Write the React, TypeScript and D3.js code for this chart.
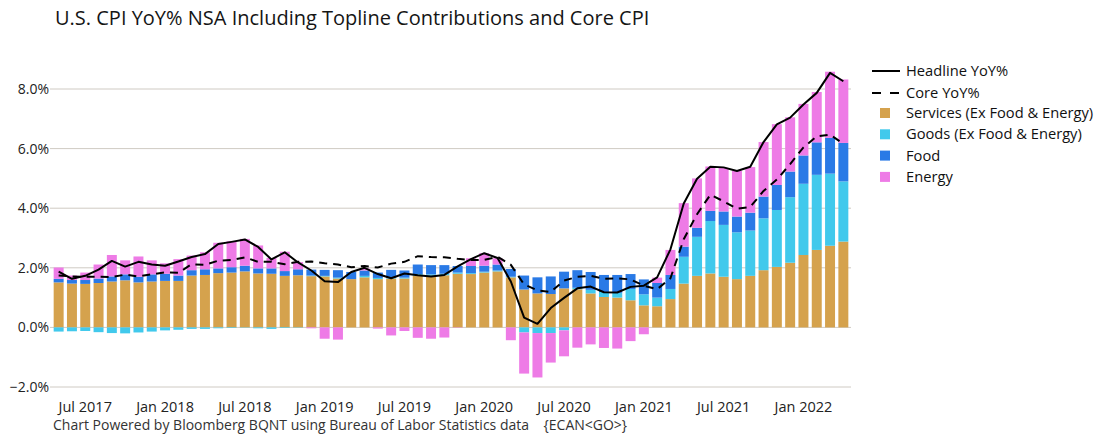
import React from 'react';
import * as d3 from 'd3';

// monthly, May 2017 .. Apr 2022
const months = [
  '2017-05', '2017-06', '2017-07', '2017-08', '2017-09', '2017-10', '2017-11', '2017-12',
  '2018-01', '2018-02', '2018-03', '2018-04', '2018-05', '2018-06', '2018-07', '2018-08', '2018-09', '2018-10', '2018-11', '2018-12',
  '2019-01', '2019-02', '2019-03', '2019-04', '2019-05', '2019-06', '2019-07', '2019-08', '2019-09', '2019-10', '2019-11', '2019-12',
  '2020-01', '2020-02', '2020-03', '2020-04', '2020-05', '2020-06', '2020-07', '2020-08', '2020-09', '2020-10', '2020-11', '2020-12',
  '2021-01', '2021-02', '2021-03', '2021-04', '2021-05', '2021-06', '2021-07', '2021-08', '2021-09', '2021-10', '2021-11', '2021-12',
  '2022-01', '2022-02', '2022-03', '2022-04',
];

const services = [
  1.51, 1.47, 1.46, 1.49, 1.54, 1.58, 1.51, 1.54,
  1.56, 1.56, 1.74, 1.76, 1.82, 1.84, 1.88, 1.81, 1.8, 1.73, 1.75, 1.72,
  1.71, 1.64, 1.62, 1.68, 1.62, 1.64, 1.64, 1.73, 1.73, 1.75, 1.8, 1.79,
  1.84, 1.88, 1.68, 1.27, 1.14, 1.12, 1.31, 1.28, 1.14, 1.02, 1.0, 0.91,
  0.74, 0.71, 0.95, 1.47, 1.73, 1.81, 1.7, 1.62, 1.73, 1.92, 2.03, 2.17,
  2.43, 2.6, 2.74, 2.88,
];
const goods = [
  -0.14, -0.13, -0.12, -0.16, -0.19, -0.2, -0.17, -0.14,
  -0.1, -0.08, -0.05, -0.05, -0.03, -0.02, -0.01, -0.03, -0.05, -0.02, -0.01, 0.02,
  0.02, 0.03, 0.0, 0.05, 0.04, 0.03, 0.03, 0.06, 0.05, 0.05, 0.04, 0.03,
  0.03, 0.03, 0.02, -0.17, -0.19, -0.19, -0.1, 0.05, 0.12, 0.17, 0.16, 0.38,
  0.37, 0.29, 0.34, 0.9, 1.31, 1.76, 1.74, 1.57, 1.52, 1.74, 1.91, 2.2,
  2.39, 2.52, 2.42, 2.02,
];
const food = [
  0.12, 0.12, 0.13, 0.15, 0.17, 0.2, 0.19, 0.24,
  0.24, 0.18, 0.18, 0.19, 0.16, 0.18, 0.19, 0.17, 0.18, 0.16, 0.2, 0.2,
  0.2, 0.25, 0.24, 0.18, 0.18, 0.26, 0.24, 0.32, 0.31, 0.29, 0.22, 0.24,
  0.2, 0.2, 0.26, 0.47, 0.54, 0.59, 0.56, 0.59, 0.6, 0.57, 0.6, 0.5,
  0.5, 0.49, 0.47, 0.34, 0.3, 0.34, 0.45, 0.53, 0.6, 0.73, 0.84, 0.86,
  0.95, 1.09, 1.2, 1.29,
];
const energy = [
  0.38, 0.15, 0.25, 0.47, 0.72, 0.47, 0.68, 0.47,
  0.35, 0.55, 0.49, 0.57, 0.86, 0.87, 0.9, 0.77, 0.35, 0.65, 0.24, -0.03,
  -0.38, -0.41, 0.0, 0.07, -0.04, -0.27, -0.12, -0.35, -0.38, -0.34, -0.01, 0.26,
  0.42, 0.21, -0.43, -1.38, -1.49, -0.99, -0.87, -0.68, -0.57, -0.69, -0.71, -0.46,
  -0.23, 0.18, 0.84, 1.46, 1.66, 1.49, 1.46, 1.54, 1.53, 1.83, 2.04, 1.82,
  1.73, 1.69, 2.22, 2.13,
];
const headline = [
  1.87, 1.63, 1.73, 1.94, 2.23, 2.04, 2.2, 2.11,
  2.07, 2.21, 2.36, 2.46, 2.8, 2.87, 2.95, 2.7, 2.28, 2.52, 2.18, 1.91,
  1.55, 1.52, 1.86, 2.0, 1.79, 1.65, 1.81, 1.75, 1.71, 1.76, 2.05, 2.29,
  2.49, 2.33, 1.54, 0.33, 0.12, 0.65, 0.99, 1.31, 1.37, 1.18, 1.17, 1.36,
  1.4, 1.68, 2.62, 4.16, 4.99, 5.39, 5.37, 5.25, 5.39, 6.22, 6.81, 7.04,
  7.48, 7.87, 8.54, 8.26,
];
const core = [
  1.74, 1.71, 1.7, 1.7, 1.69, 1.77, 1.71, 1.78,
  1.85, 1.83, 2.12, 2.1, 2.24, 2.26, 2.35, 2.2, 2.2, 2.12, 2.2, 2.21,
  2.15, 2.11, 2.02, 2.06, 2.01, 2.14, 2.2, 2.39, 2.36, 2.35, 2.3, 2.26,
  2.27, 2.37, 2.1, 1.44, 1.24, 1.19, 1.57, 1.7, 1.73, 1.63, 1.65, 1.61,
  1.4, 1.28, 1.65, 2.96, 3.8, 4.45, 4.23, 3.98, 4.04, 4.58, 4.96, 5.48,
  6.04, 6.41, 6.47, 6.16,
];

const tickMonths = ['2017-07', '2018-01', '2018-07', '2019-01', '2019-07', '2020-01', '2020-07', '2021-01', '2021-07', '2022-01'];
const tickLabels = ['Jul 2017', 'Jan 2018', 'Jul 2018', 'Jan 2019', 'Jul 2019', 'Jan 2020', 'Jul 2020', 'Jan 2021', 'Jul 2021', 'Jan 2022'];
const yTicks = [-2, 0, 2, 4, 6, 8];

const keys = ['services', 'goods', 'food', 'energy'];
const colors: Record<string, string> = {
  services: '#D5A24D',
  goods: '#41C9EC',
  food: '#2A7AE6',
  energy: '#EE7BE6',
};
const legendNames: Record<string, string> = {
  services: 'Services (Ex Food & Energy)',
  goods: 'Goods (Ex Food & Energy)',
  food: 'Food',
  energy: 'Energy',
};

const FONT = "'Open Sans', 'Noto Sans', sans-serif";

export default function App() {
  const width = 1096;
  const height = 439;

  const x = d3.scaleBand<string>().domain(months).range([52, 850]).paddingInner(0.25).paddingOuter(0.125);
  const y = d3.scaleLinear().domain([-2, 8]).range([387, 89]);
  const cx = (m: string) => (x(m) as number) + x.bandwidth() / 2;

  const rows = months.map((m, i) => ({
    month: m,
    services: services[i],
    goods: goods[i],
    food: food[i],
    energy: energy[i],
  }));

  const series = d3
    .stack<any>()
    .keys(keys)
    .offset(d3.stackOffsetDiverging)(rows);

  const line = d3
    .line<number>()
    .x((_, i) => cx(months[i]))
    .y(d => y(d));

  return (
    <svg width={width} height={height} style={{ position: 'absolute', left: 0, top: 0, background: '#fff' }} fontFamily={FONT}>
      <text x={55} y={25} fontSize={20} fill="#151515">
        U.S. CPI YoY% NSA Including Topline Contributions and Core CPI
      </text>

      {yTicks.map(t => (
        <g key={t}>
          <line x1={50} x2={851} y1={y(t)} y2={y(t)} stroke="#cfcac3" strokeWidth={1} />
          <text x={49} y={y(t)} dy="0.35em" textAnchor="end" fontSize={14} fill="#222">
            {(t < 0 ? '\u2212' : '') + Math.abs(t).toFixed(1) + '%'}
          </text>
        </g>
      ))}

      {series.map(s => (
        <g key={s.key} fill={colors[s.key]}>
          {s.map((d, i) => (
            <rect
              key={i}
              x={x(months[i])}
              width={x.bandwidth()}
              y={y(Math.max(d[0], d[1]))}
              height={Math.abs(y(d[0]) - y(d[1]))}
            />
          ))}
        </g>
      ))}

      <path d={line(core) as string} fill="none" stroke="#000" strokeWidth={2} strokeDasharray="8,6" />
      <path d={line(headline) as string} fill="none" stroke="#000" strokeWidth={2} strokeLinejoin="round" />

      {tickMonths.map((m, i) => (
        <text key={m} x={cx(m)} y={412} textAnchor="middle" fontSize={14.5} fill="#222">
          {tickLabels[i]}
        </text>
      ))}

      <text x={53} y={430} fontSize={14} fill="#333" style={{ whiteSpace: 'pre' }}>
        {'Chart Powered by Bloomberg BQNT using Bureau of Labor Statistics data    {ECAN<GO>}'}
      </text>

      <g fontSize={14.7} fill="#111">
        <line x1={872} x2={900} y1={71} y2={71} stroke="#000" strokeWidth={2} />
        <text x={906} y={71} dy="0.35em">Headline YoY%</text>
        <line x1={872} x2={902} y1={93} y2={93} stroke="#000" strokeWidth={2} strokeDasharray="9,9" />
        <text x={906} y={93} dy="0.35em">Core YoY%</text>
        {keys.map((k, i) => (
          <g key={k}>
            <rect x={880} y={113 + i * 21.3 - 5} width={10} height={10} fill={colors[k]} />
            <text x={906} y={113 + i * 21.3} dy="0.35em">{legendNames[k]}</text>
          </g>
        ))}
      </g>
    </svg>
  );
}
